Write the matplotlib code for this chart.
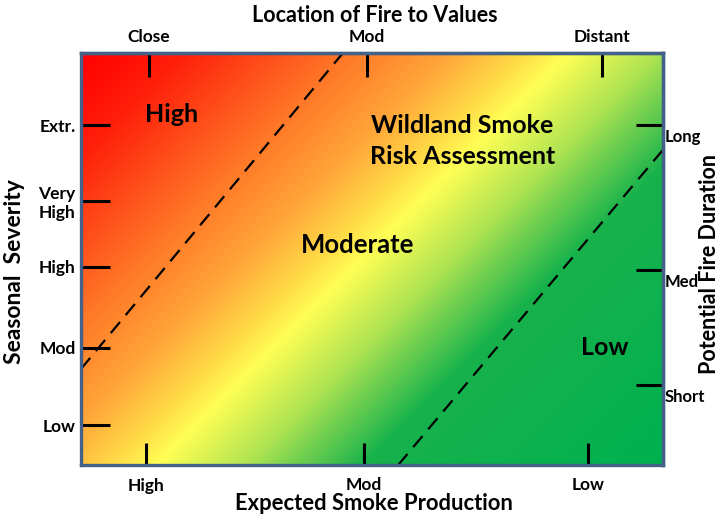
import numpy as np
import matplotlib
matplotlib.use("Agg")
import matplotlib.pyplot as plt
from matplotlib.colors import LinearSegmentedColormap
from matplotlib.transforms import ScaledTranslation

plt.rcParams['font.family'] = ['Lato', 'DejaVu Sans']
plt.rcParams['font.weight'] = 'bold'

# axis positions are fractions of the box (0 = left/bottom, 1 = right/top)
top_ticks = [0.117, 0.491, 0.895]
top_labels = ["Close", "Mod", "Distant"]
bottom_ticks = [0.112, 0.486, 0.871]
bottom_labels = ["High", "Mod", "Low"]
left_ticks = [0.097, 0.284, 0.481, 0.641, 0.825]
left_labels = ["Low", "Mod", "High", "Very\nHigh", "Extr."]
right_ticks = [0.194, 0.473, 0.825]
right_labels = ["Short", "Med", "Long"]

# zone boundaries (dashed)
high_line_x = [0.0, 0.450]
high_line_y = [0.233, 1.0]
low_line_x = [0.545, 1.0]
low_line_y = [0.0, 0.765]

zone_names = ["High", "Moderate", "Low", "Wildland Smoke\nRisk Assessment"]
zone_x = [0.156, 0.476, 0.900, 0.655]
zone_y = [0.850, 0.534, 0.284, 0.786]
zone_size = [18, 18.5, 18, 18]

grad_pos = [0.0, 0.10, 0.27, 0.37, 0.45, 0.49, 0.58, 0.70, 1.0]
grad_col = ["#FF0000", "#FF1E0A", "#FF7828", "#FFA538", "#FFDE48",
            "#FFFF55", "#B0E452", "#18B24C", "#00B050"]

fig = plt.figure(figsize=(7.19, 5.17), dpi=100)
ax = fig.add_axes([81 / 719, 52 / 517, 582 / 719, 412 / 517])
ax.set_xlim(0, 1)
ax.set_ylim(0, 1)

# diagonal gradient (in pixel space, box is 582 x 412)
w, h = 582, 412
gx, gy = np.meshgrid(np.linspace(0, 1, 400), np.linspace(1, 0, 300))
t = (gx * w + (1 - gy) * h) / (w + h)
cmap = LinearSegmentedColormap.from_list("risk", list(zip(grad_pos, grad_col)))
ax.imshow(t, cmap=cmap, extent=[0, 1, 0, 1], aspect='auto', zorder=0,
          interpolation='bilinear', vmin=0, vmax=1)

for xs, ys in [(high_line_x, high_line_y), (low_line_x, low_line_y)]:
    ln, = ax.plot(xs, ys, color='black', lw=1.6, zorder=2)
    ln.set_dashes((6.5, 4))

for name, x, y, fs in zip(zone_names, zone_x, zone_y, zone_size):
    ax.text(x, y, name, ha='center', va='center', fontsize=fs,
            fontweight='bold', linespacing=1.45, zorder=3)

border = "#44618A"
for sp in ax.spines.values():
    sp.set_color(border)
    sp.set_linewidth(2.4)
    sp.set_zorder(4)

ax.set_xticks(bottom_ticks, bottom_labels)
ax.set_yticks(left_ticks, left_labels)
ax.tick_params(axis='x', direction='in', length=16, width=2.2, pad=9,
               labelsize=12.5)
ax.tick_params(axis='y', direction='in', length=21, width=2.2, pad=4,
               labelsize=12.5)

top = ax.secondary_xaxis('top')
top.set_xticks(top_ticks, top_labels)
top.tick_params(direction='in', length=17, width=2.2, pad=6, labelsize=12.5)
top.spines['top'].set_color(border)
top.spines['top'].set_linewidth(2.4)

right = ax.secondary_yaxis('right')
right.set_yticks(right_ticks, right_labels)
right.tick_params(direction='in', length=19.5, width=2.2, pad=1, labelsize=12)
right.spines['right'].set_color(border)
right.spines['right'].set_linewidth(2.4)
shift = ScaledTranslation(0, -3 / 72, fig.dpi_scale_trans)
for lbl in right.get_yticklabels():
    lbl.set_va('top')
    lbl.set_transform(lbl.get_transform() + shift)

fig.text(375 / 719, 1 - 15 / 517, "Location of Fire to Values", ha='center',
         va='center', fontsize=15.5, fontweight='bold')
fig.text(374 / 719, 1 - 504 / 517, "Expected Smoke Production", ha='center',
         va='center', fontsize=15.8, fontweight='bold')
fig.text(15 / 719, 1 - 272 / 517, "Seasonal  Severity", ha='center',
         va='center', rotation=90, fontsize=16.5, fontweight='bold')
fig.text(709 / 719, 1 - 264 / 517, "Potential Fire Duration", ha='center',
         va='center', rotation=90, fontsize=15.5, fontweight='bold')

fig.savefig("out.png", dpi=100)
